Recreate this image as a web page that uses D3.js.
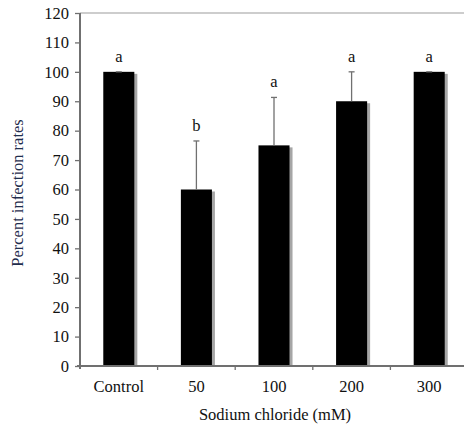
<!DOCTYPE html>
<html>
<head>
<meta charset="utf-8">
<script src="https://cdn.jsdelivr.net/npm/d3@7"></script>
<style>
  body { margin: 0; background: #fff; }
  svg text { font-family: "Liberation Serif", "Times New Roman", serif; }
</style>
</head>
<body>
<div id="chart"></div>
<script>
var categories = ["Control", "50", "100", "200", "300"];
var rates = [100, 60, 75, 90, 100];
var errors = [0, 16.5, 16.3, 10, 0];
var letters = ["a", "b", "a", "a", "a"];
var yTicks = [0, 10, 20, 30, 40, 50, 60, 70, 80, 90, 100, 110, 120];

var margin = {top: 13, right: -4, bottom: 61, left: 80};
var width = 464 - margin.left - margin.right;
var height = 427 - margin.top - margin.bottom;
var fs = 16.5;

var svg = d3.select("#chart").append("svg")
  .attr("width", 464)
  .attr("height", 427)
  .append("g")
  .attr("transform", "translate(" + margin.left + "," + margin.top + ")");

var x = d3.scaleBand().range([0, width]).domain(categories).padding(0);
var y = d3.scaleLinear().range([height, 0]).domain([0, 120]);

var barW = x.bandwidth() * 0.4;

// top border of plot area
svg.append("line")
  .attr("x1", 0).attr("x2", width)
  .attr("y1", y(120)).attr("y2", y(120))
  .attr("stroke", "#bdbdbd").attr("stroke-width", 1.5);

// shadows
svg.selectAll(".shadow")
  .data(rates)
  .enter().append("rect")
  .attr("fill", "#a6a6a6")
  .attr("x", function(d, i) { return x(categories[i]) + x.bandwidth() / 2 - barW / 2 + 3; })
  .attr("y", function(d) { return y(d) + 2; })
  .attr("width", barW)
  .attr("height", function(d) { return height - y(d) - 2; });

// bars
svg.selectAll(".bar")
  .data(rates)
  .enter().append("rect")
  .attr("fill", "#000")
  .attr("x", function(d, i) { return x(categories[i]) + x.bandwidth() / 2 - barW / 2; })
  .attr("y", function(d) { return y(d); })
  .attr("width", barW)
  .attr("height", function(d) { return height - y(d); });

// error bars (upper only)
rates.forEach(function(d, i) {
  var cx = x(categories[i]) + x.bandwidth() / 2;
  if (errors[i] > 0) {
    svg.append("line")
      .attr("x1", cx).attr("x2", cx)
      .attr("y1", y(d)).attr("y2", y(d + errors[i]))
      .attr("stroke", "#707070").attr("stroke-width", 1.3);
  }
  svg.append("line")
    .attr("x1", cx - 3).attr("x2", cx + 3)
    .attr("y1", y(d + errors[i])).attr("y2", y(d + errors[i]))
    .attr("stroke", "#707070").attr("stroke-width", 1.3);
  svg.append("text")
    .attr("x", cx)
    .attr("y", y(d + errors[i]) - 10)
    .attr("text-anchor", "middle")
    .style("font-size", fs + "px")
    .attr("fill", "#111")
    .text(letters[i]);
});

// y axis
var yAxis = svg.append("g")
  .call(d3.axisLeft(y).tickValues(yTicks).tickSize(5).tickSizeOuter(0).tickPadding(6));
yAxis.select(".domain").remove();
yAxis.append("line")
  .attr("x1", 0).attr("x2", 0)
  .attr("y1", y(120)).attr("y2", height + 3)
  .attr("stroke", "#707070").attr("stroke-width", 2);
yAxis.selectAll(".tick line").attr("stroke", "#707070").attr("stroke-width", 1.3);
yAxis.selectAll(".tick text")
  .style("font-size", fs + "px").attr("fill", "#111")
  .style("font-family", "Liberation Serif, serif");

// x axis
var xAxis = svg.append("g")
  .attr("transform", "translate(0," + height + ")")
  .call(d3.axisBottom(x).tickSize(0).tickPadding(14));
xAxis.select(".domain").remove();
xAxis.append("line")
  .attr("x1", -3).attr("x2", width)
  .attr("y1", 0).attr("y2", 0)
  .attr("stroke", "#707070").attr("stroke-width", 2);
xAxis.selectAll(".tick text")
  .style("font-size", fs + "px").attr("fill", "#111")
  .style("font-family", "Liberation Serif, serif");
// boundary ticks between categories
categories.slice(1).forEach(function(c) {
  xAxis.append("line")
    .attr("x1", x(c)).attr("x2", x(c))
    .attr("y1", 0).attr("y2", 4)
    .attr("stroke", "#707070").attr("stroke-width", 1.3);
});

// axis titles
svg.append("text")
  .attr("transform", "rotate(-90)")
  .attr("x", -180)
  .attr("y", -57)
  .attr("text-anchor", "middle")
  .style("font-size", fs + "px")
  .attr("fill", "#1f2d4d")
  .text("Percent infection rates");

svg.append("text")
  .attr("x", 275 - margin.left)
  .attr("y", height + 54)
  .attr("text-anchor", "middle")
  .style("font-size", fs + "px")
  .attr("fill", "#111")
  .text("Sodium chloride (mM)");
</script>
</body>
</html>
